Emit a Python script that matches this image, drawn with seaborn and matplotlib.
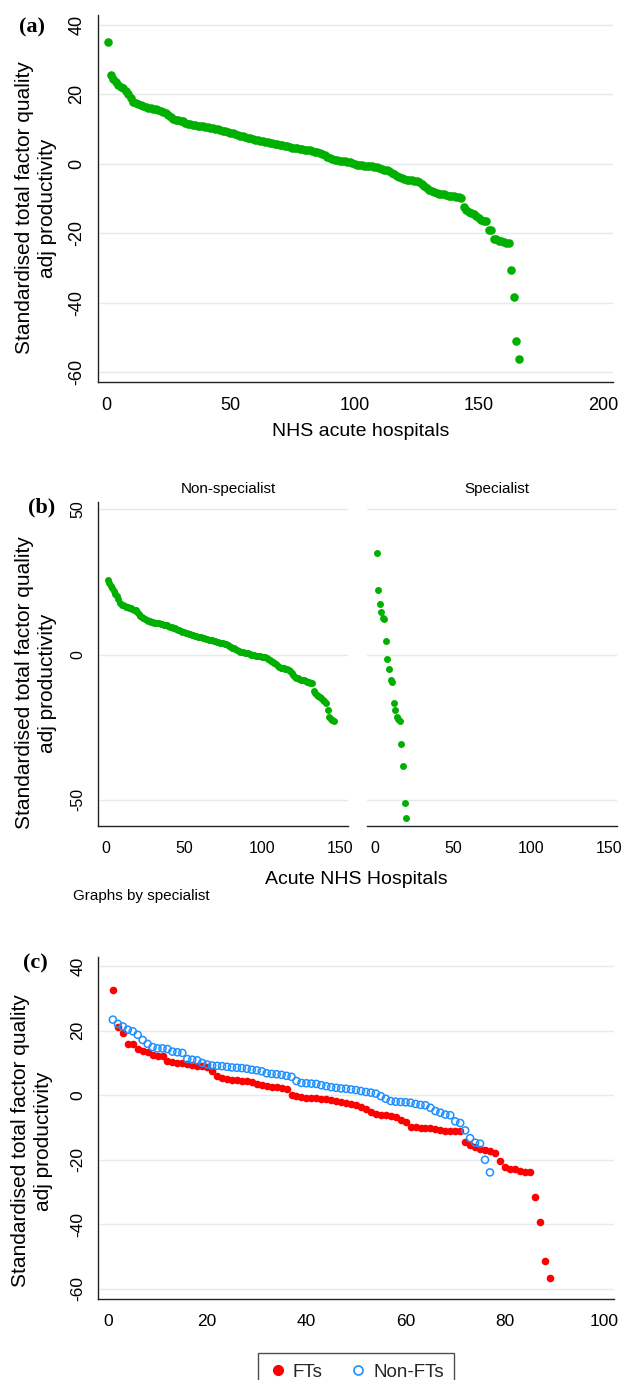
"""Standardised total factor quality adj productivity: ranked hospital scatter panels."""

import matplotlib
matplotlib.use("Agg")
import matplotlib.pyplot as plt
from matplotlib.lines import Line2D
import pandas as pd
import seaborn as sns

W, H = 626, 1380

GREEN = "#00b000"
RED = "#ff0000"
BLUE = "#1e90ff"
GRID = "#e3ebef"
AXIS = "#222222"

YLABEL = "Standardised total factor quality\nadj productivity"

# panel (b): non-specialist acute hospitals, ranked high to low
NONSPEC = [
    25.5, 24.5, 23.5, 22.8, 21.8, 21.0, 20.0, 19.0, 17.8, 17.2,
    16.9, 16.6, 16.4, 16.2, 16.0, 15.9, 15.7, 15.5, 15.2, 14.6,
    14.0, 13.4, 13.0, 12.6, 12.2, 11.9, 11.6, 11.4, 11.2, 11.1,
    11.0, 10.9, 10.8, 10.7, 10.6, 10.4, 10.3, 10.1, 10.0, 9.8,
    9.6, 9.4, 9.2, 9.0, 8.8, 8.5, 8.3, 8.1, 7.9, 7.7,
    7.5, 7.3, 7.1, 7.0, 6.8, 6.7, 6.5, 6.3, 6.2, 6.0,
    5.9, 5.7, 5.6, 5.4, 5.3, 5.1, 5.0, 4.9, 4.7, 4.5,
    4.4, 4.3, 4.1, 4.0, 3.9, 3.7, 3.5, 3.3, 3.0, 2.7,
    2.4, 2.1, 1.8, 1.5, 1.2, 1.0, 0.9, 0.8, 0.7, 0.6,
    0.4, 0.2, 0.0, -0.2, -0.3, -0.4, -0.5, -0.5, -0.6, -0.7,
    -0.8, -1.0, -1.3, -1.6, -1.9, -2.2, -2.6, -3.0, -3.4, -3.8,
    -4.2, -4.5, -4.6, -4.7, -4.8, -4.9, -5.2, -5.8, -6.5, -7.1,
    -7.6, -7.9, -8.2, -8.5, -8.7, -8.8, -8.9, -9.2, -9.4, -9.6,
    -9.7, -9.8, -12.4, -13.3, -13.8, -14.2, -14.6, -15.1, -15.6, -16.1,
    -16.6, -19.0, -21.6, -22.3, -22.6, -22.8,
]

# panel (b): specialist hospitals
SPEC = [
    35.0, 22.1, 17.5, 14.8, 12.5, 12.2, 4.7, -1.7, -5.0, -8.8,
    -9.3, -16.6, -19.2, -21.6, -22.3, -22.7, -30.7, -38.5, -51.0, -56.3,
]

# panel (c): foundation trusts vs non-foundation trusts
FTS = [
    32.6, 21.0, 19.3, 15.9, 15.8, 14.3, 13.7, 13.3, 12.6, 12.2,
    12.0, 10.5, 10.3, 10.1, 9.9, 9.6, 9.3, 9.1, 9.0, 8.8,
    7.4, 5.8, 5.4, 5.1, 4.7, 4.6, 4.4, 4.3, 4.2, 3.4,
    3.1, 2.9, 2.7, 2.6, 2.3, 1.9, 0.2, -0.3, -0.6, -0.8,
    -0.9, -1.0, -1.1, -1.3, -1.6, -1.9, -2.1, -2.3, -2.7, -3.1,
    -3.6, -4.2, -5.3, -5.9, -6.1, -6.2, -6.3, -6.8, -7.6, -8.3,
    -9.7, -9.9, -10.0, -10.1, -10.2, -10.4, -10.8, -11.0, -11.1, -11.2,
    -11.2, -14.5, -15.3, -16.0, -16.5, -16.9, -17.2, -18.0, -20.3, -22.1,
    -22.7, -23.0, -23.4, -23.7, -23.9, -31.5, -39.3, -51.4, -56.6,
]

NON_FTS = [
    23.4, 22.1, 21.3, 20.3, 19.8, 18.7, 17.1, 15.9, 14.9, 14.5,
    14.5, 14.3, 13.5, 13.3, 13.1, 11.2, 11.0, 10.8, 10.0, 9.5,
    9.2, 9.1, 9.0, 8.8, 8.6, 8.5, 8.4, 8.2, 7.9, 7.7,
    7.4, 6.8, 6.6, 6.5, 6.3, 6.0, 5.7, 4.4, 3.8, 3.7,
    3.6, 3.5, 3.1, 2.8, 2.5, 2.3, 2.1, 2.0, 1.8, 1.6,
    1.3, 1.0, 0.8, 0.5, -0.3, -1.1, -1.8, -2.0, -2.1, -2.2,
    -2.3, -2.7, -3.0, -3.1, -3.9, -4.9, -5.4, -6.0, -6.2, -8.1,
    -8.6, -10.9, -13.3, -14.7, -15.0, -20.0, -23.9,
]


def ranked(values):
    df = pd.DataFrame({"score": sorted(values, reverse=True)})
    df["rank"] = range(1, len(df) + 1)
    return df


def box(left, top, right, bottom):
    return [left / W, 1 - bottom / H, (right - left) / W, (bottom - top) / H]


def style_axis(ax, yticks, xticks, size, show_y=True):
    ax.set_yticks(yticks)
    ax.set_xticks(xticks)
    ax.grid(False)
    for y in yticks:
        ax.axhline(y, color=GRID, lw=1.0, zorder=0)
    for side in ("top", "right"):
        ax.spines[side].set_visible(False)
    ax.spines["bottom"].set_color(AXIS)
    ax.spines["bottom"].set_linewidth(1.0)
    ax.tick_params(axis="x", direction="out", length=5, width=0.9, color=AXIS,
                   pad=6, labelsize=size, labelcolor="black")
    if show_y:
        ax.spines["left"].set_color(AXIS)
        ax.spines["left"].set_linewidth(1.0)
        ax.tick_params(axis="y", direction="out", length=5, width=0.9, color=AXIS,
                       pad=4, labelsize=size, labelcolor="black")
        for lab in ax.get_yticklabels():
            lab.set_rotation(90)
            lab.set_va("center")
    else:
        ax.spines["left"].set_visible(False)
        ax.tick_params(axis="y", left=False, labelleft=False)
    ax.set_xlabel("")
    ax.set_ylabel("")


def fig_text(fig, x, y, s, **kw):
    fig.text(x / W, 1 - y / H, s, ha="center", va="center", color="black", **kw)


sns.set_style("white")
plt.rcParams["font.family"] = ["Liberation Sans", "DejaVu Sans"]
plt.rcParams["axes.unicode_minus"] = False

fig = plt.figure(figsize=(W / 100, H / 100), dpi=100)
fig.patch.set_facecolor("white")

# ---------- (a) all hospitals ----------
all_df = ranked(NONSPEC + SPEC)
ax_a = fig.add_axes(box(98, 15, 613, 382))
sns.scatterplot(data=all_df, x="rank", y="score", color=GREEN, s=38,
                linewidth=0, ax=ax_a, zorder=3)
ax_a.set_xlim(-3.2, 204.0)
ax_a.set_ylim(-62.9, 42.9)
style_axis(ax_a, [-60, -40, -20, 0, 20, 40], [0, 50, 100, 150, 200], 13)
fig_text(fig, 361, 431, "NHS acute hospitals", fontsize=14)
fig_text(fig, 36, 208, YLABEL, fontsize=15, rotation=90, multialignment="center",
         linespacing=1.25)
fig_text(fig, 32, 27, "(a)", fontsize=16, fontweight="bold",
         family=["Liberation Serif", "DejaVu Serif"])

# ---------- (b) by specialist ----------
nonspec_df = ranked(NONSPEC)
spec_df = ranked(SPEC)
ax_b1 = fig.add_axes(box(98, 502, 348, 826))
ax_b2 = fig.add_axes(box(367, 502, 617, 826))
for ax, df, show_y in ((ax_b1, nonspec_df, True), (ax_b2, spec_df, False)):
    sns.scatterplot(data=df, x="rank", y="score", color=GREEN, s=25,
                    linewidth=0, ax=ax, zorder=3)
    ax.set_xlim(-5.1, 155.1)
    ax.set_ylim(-59.0, 52.5)
    style_axis(ax, [-50, 0, 50], [0, 50, 100, 150], 11.5, show_y=show_y)
fig_text(fig, 228, 489, "Non-specialist", fontsize=11)
fig_text(fig, 497, 489, "Specialist", fontsize=11)
fig_text(fig, 356, 879, "Acute NHS Hospitals", fontsize=14)
fig.text(73 / W, 1 - 896 / H, "Graphs by specialist", ha="left", va="center",
         fontsize=11, color="black")
fig_text(fig, 36, 683, YLABEL, fontsize=15, rotation=90, multialignment="center",
         linespacing=1.25)
fig_text(fig, 42, 507, "(b)", fontsize=16, fontweight="bold",
         family=["Liberation Serif", "DejaVu Serif"])

# ---------- (c) FTs vs non-FTs ----------
ft_df = ranked(FTS)
nonft_df = ranked(NON_FTS)
ax_c = fig.add_axes(box(98, 957, 614, 1299))
sns.scatterplot(data=ft_df, x="rank", y="score", color=RED, s=30,
                linewidth=0, ax=ax_c, zorder=3)
sns.scatterplot(data=nonft_df, x="rank", y="score", facecolors="none",
                edgecolor=BLUE, s=26, linewidth=1.1, ax=ax_c, zorder=4)
ax_c.set_xlim(-2.0, 102.0)
ax_c.set_ylim(-63.1, 42.8)
style_axis(ax_c, [-60, -40, -20, 0, 20, 40], [0, 20, 40, 60, 80, 100], 12.5)
fig_text(fig, 32, 1141, YLABEL, fontsize=15, rotation=90, multialignment="center",
         linespacing=1.25)
fig_text(fig, 35, 963, "(c)", fontsize=16, fontweight="bold",
         family=["Liberation Serif", "DejaVu Serif"])

handles = [
    Line2D([], [], ls="", marker="o", markersize=7, markerfacecolor=RED,
           markeredgecolor=RED),
    Line2D([], [], ls="", marker="o", markersize=6.5, markerfacecolor="none",
           markeredgecolor=BLUE, markeredgewidth=1.2),
]
leg = fig.legend(handles, ["FTs", "Non-FTs"], loc="upper center",
                 bbox_to_anchor=(356 / W, 1 - 1344 / H), ncol=2, fontsize=13.5,
                 frameon=True, fancybox=False, edgecolor=AXIS, handletextpad=0.3,
                 columnspacing=1.4, borderpad=0.55, handlelength=1.0)
leg.get_frame().set_linewidth(1.0)

fig.savefig("out.png", dpi=100)
